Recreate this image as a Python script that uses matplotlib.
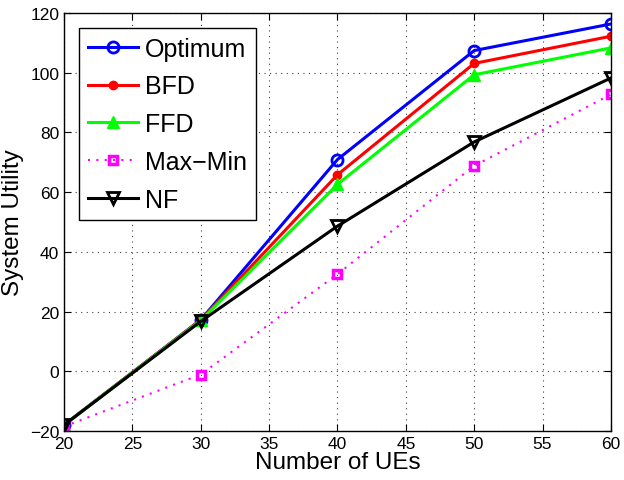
import numpy as np
import matplotlib
matplotlib.use('Agg')
import matplotlib.pyplot as plt

num_ues = [20, 30, 40, 50, 60]
optimum = [-18, 17.2, 70.9, 107.4, 116.3]
bfd = [-18, 17.2, 65.8, 103.1, 112.2]
ffd = [-18, 17.0, 62.6, 99.3, 108.3]
max_min = [-18.5, -1.1, 32.5, 68.8, 92.7]
nf = [-18, 16.7, 48.6, 76.8, 98.2]

plt.rcParams['font.family'] = ['Liberation Sans', 'DejaVu Sans']

fig = plt.figure(figsize=(6.24, 4.81), dpi=100)
ax = fig.add_axes([0.1026, 0.102, 0.8764, 0.869])

ax.plot(num_ues, optimum, color='#0000ff', lw=2.2, marker='o', ms=8, mfc='none', mew=2, label='Optimum')
ax.plot(num_ues, bfd, color='#ff0000', lw=2.2, marker='o', ms=6, mfc='#ff0000', label='BFD')
ax.plot(num_ues, ffd, color='#00ff00', lw=2.2, marker='^', ms=9, mfc='#00ff00', label='FFD')
ax.plot(num_ues, max_min, color='#ff00ff', lw=1.5, ls=(0, (1, 3)), marker='s', ms=6, mfc='none', mew=2.5, label='Max\u2212Min')
ax.plot(num_ues, nf, color='black', lw=2.2, marker='v', ms=9, mfc='none', mew=2, label='NF')

ax.set_xlim(20, 60)
ax.set_ylim(-20, 120)
ax.set_xticks(np.arange(20, 61, 5))
ax.set_yticks(np.arange(-20, 121, 20))
ax.set_yticklabels(['\u221220'] + [str(v) for v in range(0, 121, 20)])
ax.grid(True, ls=(0, (1, 4)), color='#404040', lw=0.8)
ax.tick_params(direction='in', labelsize=12.5, length=5, top=True, right=True)
for s in ax.spines.values():
    s.set_linewidth(1.0)

ax.set_xlabel('Number of UEs', fontsize=17.5, labelpad=0)
ax.set_ylabel('System Utility', fontsize=17.5, labelpad=4)

leg = ax.legend(loc='upper left', fontsize=18, fancybox=False, framealpha=1,
                edgecolor='black', handlelength=2.0, borderpad=0.35,
                labelspacing=0.55, handletextpad=0.3, borderaxespad=0.6)
leg.get_frame().set_linewidth(1.0)

fig.savefig('out.png', dpi=100)
